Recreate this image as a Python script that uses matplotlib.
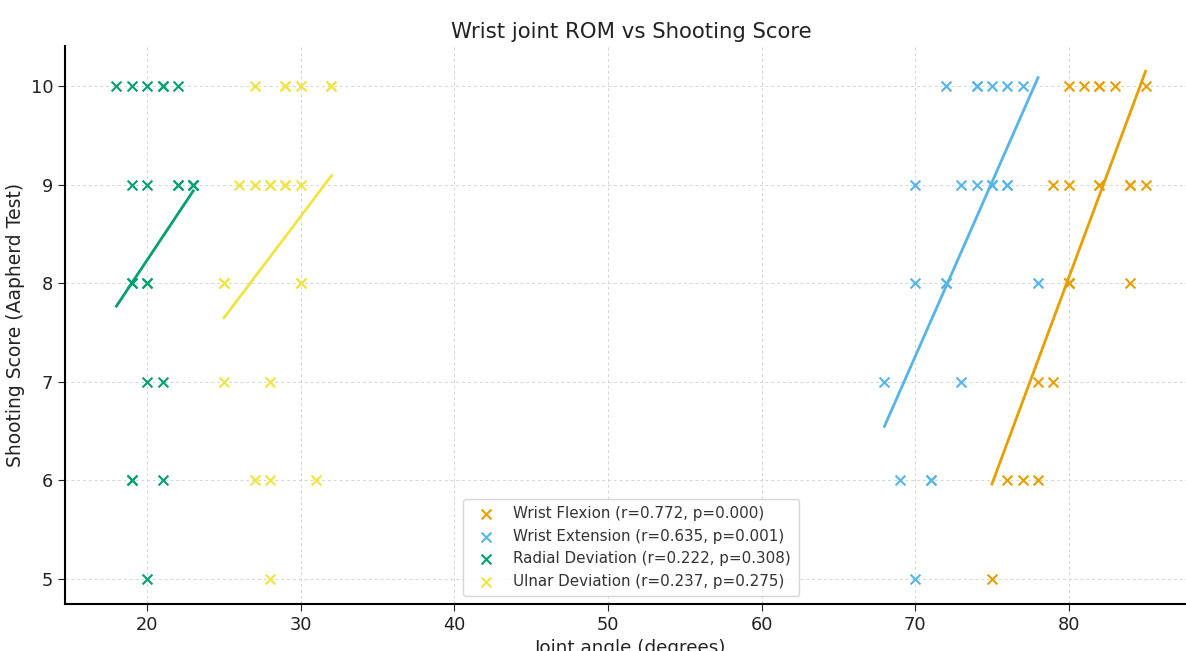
import numpy as np
import matplotlib
matplotlib.use("Agg")
import matplotlib.pyplot as plt

# shooting score of the 23 athletes (Aapherd test)
scores = [10, 10, 10, 10, 10, 10, 9, 9, 9, 9, 9, 9, 9, 8, 8, 8, 8, 7, 7, 6, 6, 6, 5]

# joint angles (degrees), same athlete order as scores
flexion = [80, 81, 82, 82, 83, 85, 79, 80, 82, 82, 84, 84, 85, 80, 80, 80, 84, 78, 79, 76, 77, 78, 75]
extension = [72, 74, 74, 75, 76, 77, 70, 73, 74, 75, 75, 76, 76, 70, 72, 72, 78, 68, 73, 69, 71, 71, 70]
radial = [18, 19, 20, 21, 21, 22, 19, 20, 22, 22, 23, 23, 23, 19, 19, 20, 20, 20, 21, 19, 19, 21, 20]
ulnar = [27, 29, 29, 30, 32, 32, 26, 27, 28, 28, 29, 29, 30, 25, 25, 30, 30, 25, 28, 27, 28, 31, 28]

names = ["Wrist Flexion", "Wrist Extension", "Radial Deviation", "Ulnar Deviation"]
r_values = [0.772, 0.635, 0.222, 0.237]
p_values = [0.000, 0.001, 0.308, 0.275]
colors = ["#E69F00", "#56B4E9", "#009E73", "#F0E442"]

fig = plt.figure(figsize=(11.86, 6.51), dpi=100)
ax = fig.add_axes([65 / 1186, 47 / 651, 1132 / 1186, 558 / 651])

y = np.array(scores)
for angles, name, r, p, c in zip([flexion, extension, radial, ulnar], names, r_values, p_values, colors):
    x = np.array(angles)
    ax.scatter(x, y, marker="x", s=50, linewidths=1.5, color=c,
               label=f"{name} (r={r:.3f}, p={p:.3f})", zorder=3)
    slope, intercept = np.polyfit(x, y, 1)
    xs = np.array([x.min(), x.max()])
    ax.plot(xs, slope * xs + intercept, color=c, linewidth=2, zorder=2)

ax.set_title("Wrist joint ROM vs Shooting Score", fontsize=15.3, color="#222222")
ax.set_xlabel("Joint angle (degrees)", fontsize=13.2, color="#222222")
ax.set_ylabel("Shooting Score (Aapherd Test)", fontsize=13.5, color="#222222")
ax.tick_params(labelsize=12.8, colors="#222222", length=5)
ax.grid(True, linestyle=(0, (3, 3)), color="#d4d4d4", linewidth=0.7)
ax.set_axisbelow(True)
for side in ["top", "right"]:
    ax.spines[side].set_visible(False)
for side in ["left", "bottom"]:
    ax.spines[side].set_linewidth(1.5)

ax.legend(loc="lower center", fontsize=10.9, frameon=True, edgecolor="#cccccc",
          handletextpad=0.8, borderpad=0.5, labelcolor="#333333")

fig.savefig("out.png", dpi=100)
